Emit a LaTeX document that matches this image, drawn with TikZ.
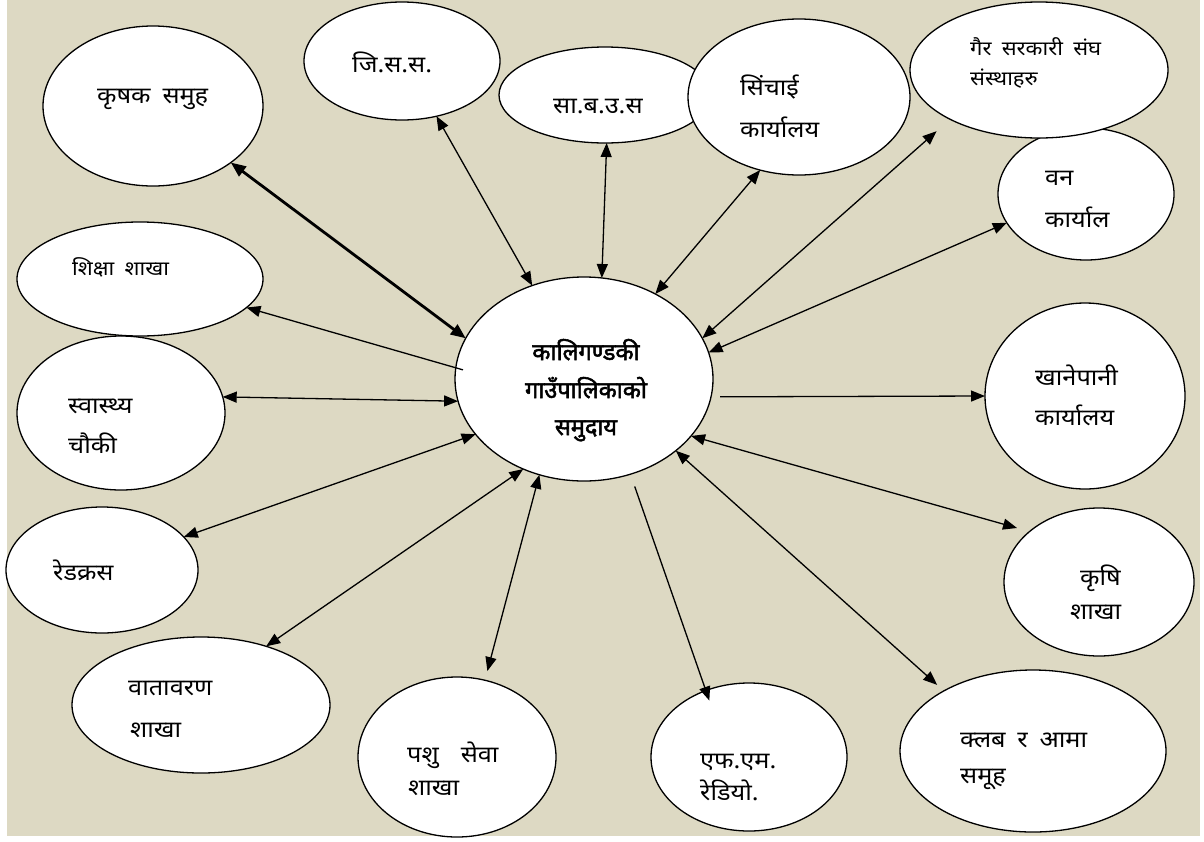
\documentclass[tikz,border=0pt]{standalone}
\usepackage{fontspec}
\newfontfamily\dev[Script=Devanagari,FakeStretch=1.1,WordSpace=1.8]{Noto Sans}
\newfontfamily\devb[Script=Devanagari,FakeBold=2.2]{Noto Sans}
\usetikzlibrary{shapes.geometric,arrows.meta}
\definecolor{bgtan}{RGB}{221,217,195}
\begin{document}
\begin{tikzpicture}[x=1pt,y=-1pt,
  ell/.style={ellipse,draw=black,line width=1.3pt,fill=white,inner sep=0pt,outer sep=0pt},
  lbl/.style={anchor=base west,inner sep=0pt,font=\dev\fontsize{23}{23}\selectfont},
  slbl/.style={anchor=base west,inner sep=0pt,font=\dev\fontsize{20}{20}\selectfont},
  clbl/.style={anchor=base,inner sep=0pt,font=\devb\fontsize{23.5}{23.5}\selectfont},
  tip/.tip={Triangle[length=14pt,width=11pt]},
  conn/.style={line width=1.3pt,tip-tip},
  sconn/.style={line width=1.3pt,-tip},
  thick conn/.style={line width=2.8pt,{Triangle[length=15pt,width=12pt]}-{Triangle[length=15pt,width=12pt]}}]
\useasboundingbox (0,0) rectangle (1204,841);
\fill[white] (0,0) rectangle (1204,841);
\fill[bgtan] (7,0) rectangle (1200,836);

% ellipses
\node[ell,minimum width=220pt,minimum height=160pt] (K) at (153,106) {};
\node[ell,minimum width=196pt,minimum height=118pt] (J) at (402,61) {};
\node[ell,minimum width=212pt,minimum height=96pt] (S) at (605,95) {};
\node[ell,minimum width=222pt,minimum height=156pt] (I) at (799,97) {};
\node[ell,minimum width=176pt,minimum height=132pt] (V) at (1086,194) {};
\node[ell,minimum width=258pt,minimum height=136pt] (G) at (1039,70) {};
\node[ell,minimum width=208pt,minimum height=154pt] (H) at (121,413) {};
\node[ell,minimum width=246pt,minimum height=114pt] (E) at (140,279) {};
\node[ell,minimum width=258pt,minimum height=204pt] (C) at (584,379) {};
\node[ell,minimum width=200pt,minimum height=186pt] (N) at (1085,396) {};
\node[ell,minimum width=192pt,minimum height=126pt] (R) at (102,570) {};
\node[ell,minimum width=190pt,minimum height=148pt] (A) at (1099,582) {};
\node[ell,minimum width=258pt,minimum height=136pt] (W) at (201,705) {};
\node[ell,minimum width=198pt,minimum height=160pt] (P) at (457,757) {};
\node[ell,minimum width=196pt,minimum height=148pt] (F) at (749,757) {};
\node[ell,minimum width=266pt,minimum height=162pt] (L) at (1033,751) {};

% labels
\node[lbl] (tK) at (97,103) {कृषक समुह};
\node[lbl] (tJ) at (352,72) {जि.स.स.};
\node[lbl] (tS) at (553,113) {सा.ब.उ.स};
\node[lbl] (tI1) at (740,95) {सिंचाई};
\node[lbl] (tI2) at (740,137) {कार्यालय};
\node[slbl] (tG1) at (970,55) {गैर सरकारी संघ};
\node[slbl] (tG2) at (970,85) {संस्थाहरु};
\node[lbl] (tV1) at (1045,185) {वन};
\node[lbl] (tV2) at (1045,227) {कार्याल};
\node[slbl] (tE) at (72,275) {शिक्षा शाखा};
\node[lbl] (tH1) at (68,413) {स्वास्थ्य};
\node[lbl] (tH2) at (68,453) {चौकी};
\node[clbl] (tC1) at (586,360) {कालिगण्डकी};
\node[clbl] (tC2) at (586,398) {गाउँपालिकाको};
\node[clbl] (tC3) at (586,435) {समुदाय};
\node[lbl] (tN1) at (1035,385) {खानेपानी};
\node[lbl] (tN2) at (1035,425) {कार्यालय};
\node[lbl] (tR) at (53,580) {रेडक्रस};
\node[lbl] (tA1) at (1080,585) {कृषि};
\node[lbl] (tA2) at (1070,619) {शाखा};
\node[lbl] (tW1) at (128,695) {वातावरण};
\node[lbl] (tW2) at (130,737) {शाखा};
\node[lbl] (tP1) at (407,762) {पशु\hspace{22pt}सेवा};
\node[lbl] (tP2) at (408,795) {शाखा};
\node[lbl] (tF1) at (700,768) {एफ.एम.};
\node[lbl] (tF2) at (700,800) {रेडियो.};
\node[lbl] (tL1) at (960,747) {क्लब र आमा};
\node[lbl] (tL2) at (960,783) {समूह};

% connectors
\draw[thick conn] (K.-36.8) -- (C.161);
\draw[conn] (J.-58.5) -- (C.119.8);
\draw[conn] (S.-88.7) -- (C.80.6);
\draw[conn] (I.-118.6) -- (C.50.5);
\draw[conn,shorten <=18pt] (G.-151.3) -- (C.19.1);
\draw[conn] (V.-160.5) -- (C.12.2);
\draw[sconn,shorten <=-7.5pt] (C.175.7) -- (E.-15.5);
\draw[conn] (H.9) -- (C.-170.9);
\draw[conn] (R.22.9) -- (C.-153.7);
\draw[conn] (W.42.7) -- (C.-124);
\draw[conn,shorten <=9.5pt] (P.70.2) -- (C.-115.8);
\draw[sconn,shorten <=13pt,shorten >=-10.6pt] (C.-64.5) -- (F.123.4);
\draw[conn,shorten <=9pt] (L.146.1) -- (C.-38.4);
\draw[conn,shorten <=13pt] (A.144) -- (C.-28.4);
\draw[sconn,shorten <=9pt] (C.-8.5) -- (N.180);
\end{tikzpicture}
\end{document}
